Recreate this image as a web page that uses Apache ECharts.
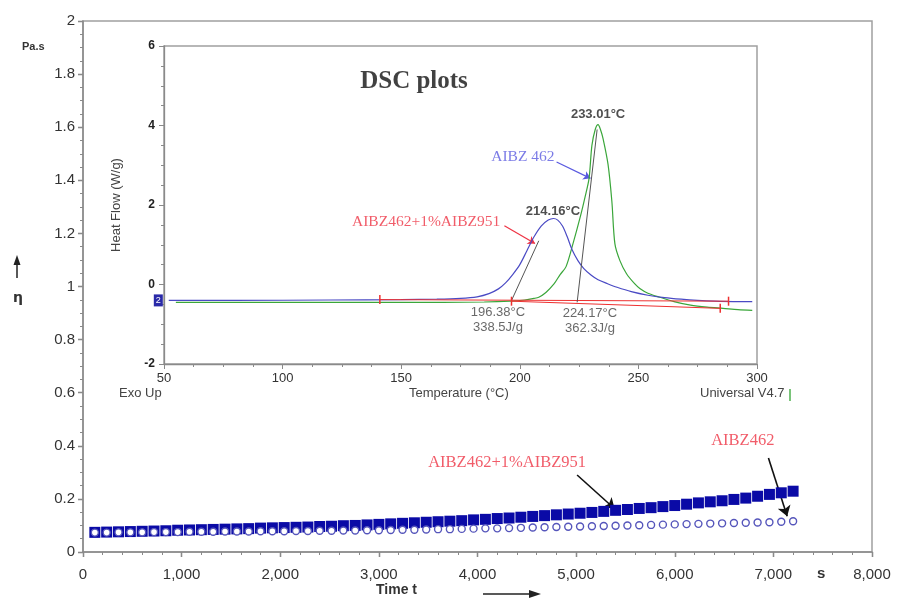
<!DOCTYPE html>
<html><head><meta charset="utf-8">
<script src="https://cdn.jsdelivr.net/npm/echarts@6/dist/echarts.min.js"></script>
<style>html,body{margin:0;padding:0;background:#fff}#c{width:897px;height:601px}</style>
</head><body><div id="c"></div>
<script>
// ---------- Main chart data: viscosity vs time ----------
const timeS = [120,240,360,480,600,720,840,960,1080,1200,1320,1440,1560,1680,1800,1920,2040,2160,2280,2400,
  2520,2640,2760,2880,3000,3120,3240,3360,3480,3600,3720,3840,3960,4080,4200,4320,4440,4560,4680,4800,
  4920,5040,5160,5280,5400,5520,5640,5760,5880,6000,6120,6240,6360,6480,6600,6720,6840,6960,7080,7200];
const etaBlend = [0.074,0.075,0.076,0.077,0.078,0.079,0.080,0.082,0.083,0.084,
  0.085,0.086,0.087,0.088,0.090,0.091,0.092,0.093,0.094,0.096,
  0.097,0.099,0.100,0.102,0.104,0.106,0.108,0.110,0.112,0.114,
  0.116,0.118,0.121,0.123,0.126,0.128,0.131,0.134,0.137,0.140,
  0.143,0.146,0.149,0.153,0.157,0.160,0.164,0.167,0.171,0.175,
  0.180,0.185,0.189,0.193,0.198,0.203,0.210,0.217,0.223,0.229];
const etaPure = [0.073,0.073,0.074,0.074,0.074,0.075,0.075,0.075,0.076,0.076,
  0.076,0.077,0.077,0.077,0.078,0.078,0.078,0.079,0.079,0.080,
  0.080,0.081,0.081,0.082,0.082,0.083,0.084,0.084,0.085,0.086,
  0.086,0.087,0.088,0.089,0.089,0.090,0.091,0.092,0.093,0.094,
  0.095,0.096,0.097,0.098,0.099,0.100,0.101,0.102,0.103,0.104,
  0.105,0.106,0.107,0.108,0.109,0.110,0.111,0.112,0.114,0.116];
const mainXRange = [0, 8000, 1000];
const mainYRange = [0, 2, 0.2];

// ---------- Inset (DSC) data ----------
const blendT  = [52,80,120,150,165,175,182,187,191,194,197,200,203,206,209,212,214.16,216,218,220,222,224.5,227,230,233,237,241,247,254,261,268,275,282,290,298];
const blendHF = [-0.40,-0.40,-0.39,-0.38,-0.37,-0.35,-0.31,-0.23,-0.11,0.04,0.25,0.50,0.85,1.20,1.47,1.62,1.66,1.62,1.47,1.20,0.88,0.60,0.40,0.24,0.12,0.02,-0.07,-0.18,-0.27,-0.33,-0.37,-0.40,-0.42,-0.43,-0.43];
const pureT  = [55,100,150,185,196,202,206,208,211,214.5,217,219.5,222.4,225.4,227.5,229.2,230.4,231.8,233.01,234,235.1,237.2,238.8,240.1,242.2,245,248.4,250.6,254,259,265,272,279,285.7,292,298];
const pureHF = [-0.45,-0.45,-0.45,-0.44,-0.42,-0.39,-0.35,-0.32,-0.20,0.02,0.25,0.45,1.02,1.68,2.20,2.67,3.50,3.90,4.02,3.90,3.67,3.02,2.10,1.02,0.60,0.27,0.02,-0.10,-0.22,-0.32,-0.43,-0.52,-0.57,-0.60,-0.63,-0.65];
const baseBlendT = [141, 288], baseBlendHF = [-0.38, -0.42];
const basePureT = [196.5, 284.5], basePureHF = [-0.42, -0.60];
const tanBlendT = [196.38, 208], tanBlendHF = [-0.42, 1.10];
const tanPureT = [224.17, 232.6], tanPureHF = [-0.45, 3.90];
const insetXRange = [50, 300, 50];
const insetYRange = [-2, 6, 2];

// ---------- Annotations ----------
const insetTexts = [
  {text:'233.01°C', at:[233, 4.28], kind:'peak'},
  {text:'214.16°C', at:[214, 1.85], kind:'peak'},
  {text:'196.38°C', at:[190.8, -0.70], kind:'val'},
  {text:'338.5J/g', at:[190.8, -1.08], kind:'val'},
  {text:'224.17°C', at:[229.6, -0.73], kind:'val'},
  {text:'362.3J/g', at:[229.6, -1.11], kind:'val'},
  {text:'DSC plots', at:[155.4, 5.1], kind:'title'},
  {text:'AIBZ 462', at:[201.3, 3.2], kind:'blue'},
  {text:'AIBZ462+1%AIBZ951', at:[160.5, 1.57], kind:'red'}
];
const insetArrows = [
  {from:[215.5, 3.08], to:[229.8, 2.67], color:'#5a5ae0'},
  {from:[193.5, 1.48], to:[206.4, 1.03], color:'#ee3344'}
];
const mainTexts = [
  {text:'AIBZ462+1%AIBZ951', at:[4300, 0.335]},
  {text:'AIBZ462', at:[6690, 0.418]}
];
const mainArrows = [
  {from:[5010, 0.29], to:[5390, 0.163]},
  {from:[6950, 0.354], to:[7140, 0.135]}
];

const xy = (a, b) => a.map((v, i) => [v, b[i]]);
const fmtThousands = v => v.toLocaleString('en-US');

const chart = echarts.init(document.getElementById('c'));
const axisGray = '#8a8a8a';
const lblColor = '#333';

const textStyles = {
  peak: {fontSize: 13, fontWeight: 'bold', color: '#222', fontFamily: 'Arial, Liberation Sans'},
  val: {fontSize: 13, color: '#444', fontFamily: 'Arial, Liberation Sans'},
  title: {fontSize: 25, fontWeight: 'bold', color: '#111', fontFamily: 'Liberation Serif, Times New Roman'},
  blue: {fontSize: 15.5, color: '#5a5ae0', fontFamily: 'Liberation Serif, Times New Roman'},
  red: {fontSize: 15.5, color: '#ee3344', fontFamily: 'Liberation Serif, Times New Roman'}
};

const series = [
  // main chart
  {type:'scatter', xAxisIndex:0, yAxisIndex:0, symbol:'rect', symbolSize:11,
   itemStyle:{color:'#0a0aa6', opacity:1}, data: xy(timeS, etaBlend), silent:true},
  {type:'scatter', xAxisIndex:0, yAxisIndex:0, symbol:'circle', symbolSize:7,
   itemStyle:{color:'#fff', borderColor:'#5555bb', borderWidth:1.4, opacity:1}, data: xy(timeS, etaPure), silent:true},
  {type:'lines', coordinateSystem:'cartesian2d', xAxisIndex:0, yAxisIndex:0, symbol:['none','arrow'], symbolSize:10,
   lineStyle:{color:'#111', width:1.6, opacity:1}, data: mainArrows.map(a => ({coords:[a.from, a.to]})), silent:true},
  {type:'scatter', xAxisIndex:0, yAxisIndex:0, symbolSize:1, itemStyle:{color:'transparent'},
   label:{show:true, position:'inside', formatter:'{b}', fontSize:16.5, color:'#ee3344', fontFamily:'Liberation Serif, Times New Roman'},
   data: mainTexts.map(t => ({name:t.text, value:t.at})), silent:true},
  // inset
  {type:'line', xAxisIndex:2, yAxisIndex:2, data: xy(pureT, pureHF), showSymbol:false, smooth:0.3,
   lineStyle:{color:'#3aa63a', width:1.2}, silent:true},
  {type:'line', xAxisIndex:2, yAxisIndex:2, data: xy(blendT, blendHF), showSymbol:false, smooth:0.3,
   lineStyle:{color:'#4a4ac4', width:1.2}, silent:true},
  {type:'line', xAxisIndex:2, yAxisIndex:2, data: xy(baseBlendT, baseBlendHF), symbol:'rect', symbolSize:[1.5,9], showSymbol:true,
   itemStyle:{color:'#ee3030'}, lineStyle:{color:'#ee3030', width:1}, silent:true},
  {type:'line', xAxisIndex:2, yAxisIndex:2, data: xy(basePureT, basePureHF), symbol:'rect', symbolSize:[1.5,9], showSymbol:true,
   itemStyle:{color:'#ee3030'}, lineStyle:{color:'#ee3030', width:1}, silent:true},
  {type:'line', xAxisIndex:2, yAxisIndex:2, data: xy(tanBlendT, tanBlendHF), showSymbol:false,
   lineStyle:{color:'#555', width:1}, silent:true},
  {type:'line', xAxisIndex:2, yAxisIndex:2, data: xy(tanPureT, tanPureHF), showSymbol:false,
   lineStyle:{color:'#555', width:1}, silent:true},
  {type:'lines', coordinateSystem:'cartesian2d', xAxisIndex:2, yAxisIndex:2, symbol:['none','arrow'], symbolSize:7,
   data: insetArrows.map(a => ({coords:[a.from, a.to], lineStyle:{color:a.color, width:1.2, opacity:1}})), silent:true},
  {type:'scatter', xAxisIndex:2, yAxisIndex:2, symbol:'rect', symbolSize:[9,12], clip:false,
   itemStyle:{color:'#2a2aa8', opacity:1}, data:[[47.6, -0.4]],
   label:{show:true, position:'inside', formatter:'2', fontSize:9, color:'#fff', fontFamily:'Arial'}, silent:true}
];
Object.keys(textStyles).forEach(kind => {
  series.push({type:'scatter', xAxisIndex:2, yAxisIndex:2, symbolSize:1, z:10,
    itemStyle:{color:'transparent'},
    label:Object.assign({show:true, position:'inside', formatter:'{b}'}, textStyles[kind]),
    data: insetTexts.filter(t => t.kind === kind).map(t => ({name:t.text, value:t.at})), silent:true});
});

const baseAxisLine = {show:true, lineStyle:{color:axisGray, width:1.5}};

chart.setOption({
  animation:false,
  backgroundColor:'#fff',
  grid:[
    {left:83, top:21, width:789, height:531, show:true, borderColor:'#a0a0a0', borderWidth:1.5, backgroundColor:'#fff'},
    {left:164, top:46, width:593, height:318, show:true, borderColor:'#a0a0a0', borderWidth:1.5, backgroundColor:'#fff'}
  ],
  xAxis:[
    {gridIndex:0, type:'value', min:mainXRange[0], max:mainXRange[1], interval:mainXRange[2],
     axisLine:baseAxisLine, axisTick:{show:true, inside:false, length:5, lineStyle:{color:axisGray, width:1.3}},
     axisLabel:{fontSize:15, color:lblColor, margin:15, fontFamily:'Arial, Liberation Sans', formatter:fmtThousands},
     splitLine:{show:false}},
    {gridIndex:0, type:'value', min:mainXRange[0], max:mainXRange[1], interval:mainXRange[2],
     axisLine:{show:false}, axisTick:{show:true, inside:true, length:5, lineStyle:{color:axisGray, width:1.3}},
     minorTick:{show:true, splitNumber:5, length:3, lineStyle:{color:axisGray}},
     axisLabel:{show:false}, splitLine:{show:false}},
    {gridIndex:1, type:'value', min:insetXRange[0], max:insetXRange[1], interval:insetXRange[2],
     axisLine:{show:true, onZero:false, lineStyle:{color:axisGray, width:1.3}},
     axisTick:{show:true, length:5, lineStyle:{color:axisGray}},
     minorTick:{show:true, splitNumber:4, length:3, lineStyle:{color:axisGray}},
     axisLabel:{fontSize:13, color:lblColor, margin:8, fontFamily:'Arial, Liberation Sans'},
     splitLine:{show:false}}
  ],
  yAxis:[
    {gridIndex:0, type:'value', min:mainYRange[0], max:mainYRange[1], interval:mainYRange[2],
     axisLine:baseAxisLine, axisTick:{show:true, inside:false, length:5, lineStyle:{color:axisGray, width:1.3}},
     axisLabel:{fontSize:15, color:lblColor, margin:8, fontFamily:'Arial, Liberation Sans'},
     splitLine:{show:false}},
    {gridIndex:0, type:'value', min:mainYRange[0], max:mainYRange[1], interval:mainYRange[2],
     axisLine:{show:false}, axisTick:{show:true, inside:true, length:5, lineStyle:{color:axisGray, width:1.3}},
     minorTick:{show:true, splitNumber:4, length:3, lineStyle:{color:axisGray}},
     axisLabel:{show:false}, splitLine:{show:false}},
    {gridIndex:1, type:'value', min:insetYRange[0], max:insetYRange[1], interval:insetYRange[2],
     axisLine:{show:true, onZero:false, lineStyle:{color:axisGray, width:1.3}},
     axisTick:{show:true, length:5, lineStyle:{color:axisGray}},
     minorTick:{show:true, splitNumber:4, length:3, lineStyle:{color:axisGray}},
     axisLabel:{fontSize:12, color:'#222', fontWeight:'bold', margin:9, fontFamily:'Arial, Liberation Sans'},
     name:'Heat Flow (W/g)', nameLocation:'middle', nameGap:41, nameRotate:90,
     nameTextStyle:{fontSize:13, color:'#444', fontFamily:'Arial, Liberation Sans'},
     splitLine:{show:false}}
  ],
  series: series,
  graphic:[
    {type:'text', left:22, top:41, style:{text:'Pa.s', fontSize:11, fontWeight:'bold', fill:'#333', fontFamily:'Arial'}},
    {type:'text', left:13, top:291, style:{text:'η', fontSize:14, fontWeight:'bold', fill:'#333', fontFamily:'DejaVu Sans'}},
    {type:'line', shape:{x1:17, y1:278, x2:17, y2:264}, style:{stroke:'#222', lineWidth:1.5}},
    {type:'polygon', shape:{points:[[17,255],[13.5,265],[20.5,265]]}, style:{fill:'#222'}},
    {type:'text', left:376, top:583, style:{text:'Time t', fontSize:14, fontWeight:'bold', fill:'#333', fontFamily:'Arial'}},
    {type:'line', shape:{x1:483, y1:594, x2:530, y2:594}, style:{stroke:'#222', lineWidth:1.5}},
    {type:'polygon', shape:{points:[[541,594],[529,590],[529,598]]}, style:{fill:'#222'}},
    {type:'text', left:817, top:566, style:{text:'s', fontSize:15, fontWeight:'bold', fill:'#333', fontFamily:'Arial'}},
    {type:'text', left:119, top:387, z:10, style:{text:'Exo Up', fontSize:13, fill:'#444', fontFamily:'Arial'}},
    {type:'text', left:409, top:387, z:10, style:{text:'Temperature (°C)', fontSize:13, fill:'#444', fontFamily:'Arial'}},
    {type:'text', left:700, top:387, z:10, style:{text:'Universal V4.7', fontSize:13, fill:'#444', fontFamily:'Arial'}},
    {type:'rect', left:789, top:389, z:10, shape:{width:2, height:12}, style:{fill:'#7ac47a'}}
  ]
});
</script></body></html>
